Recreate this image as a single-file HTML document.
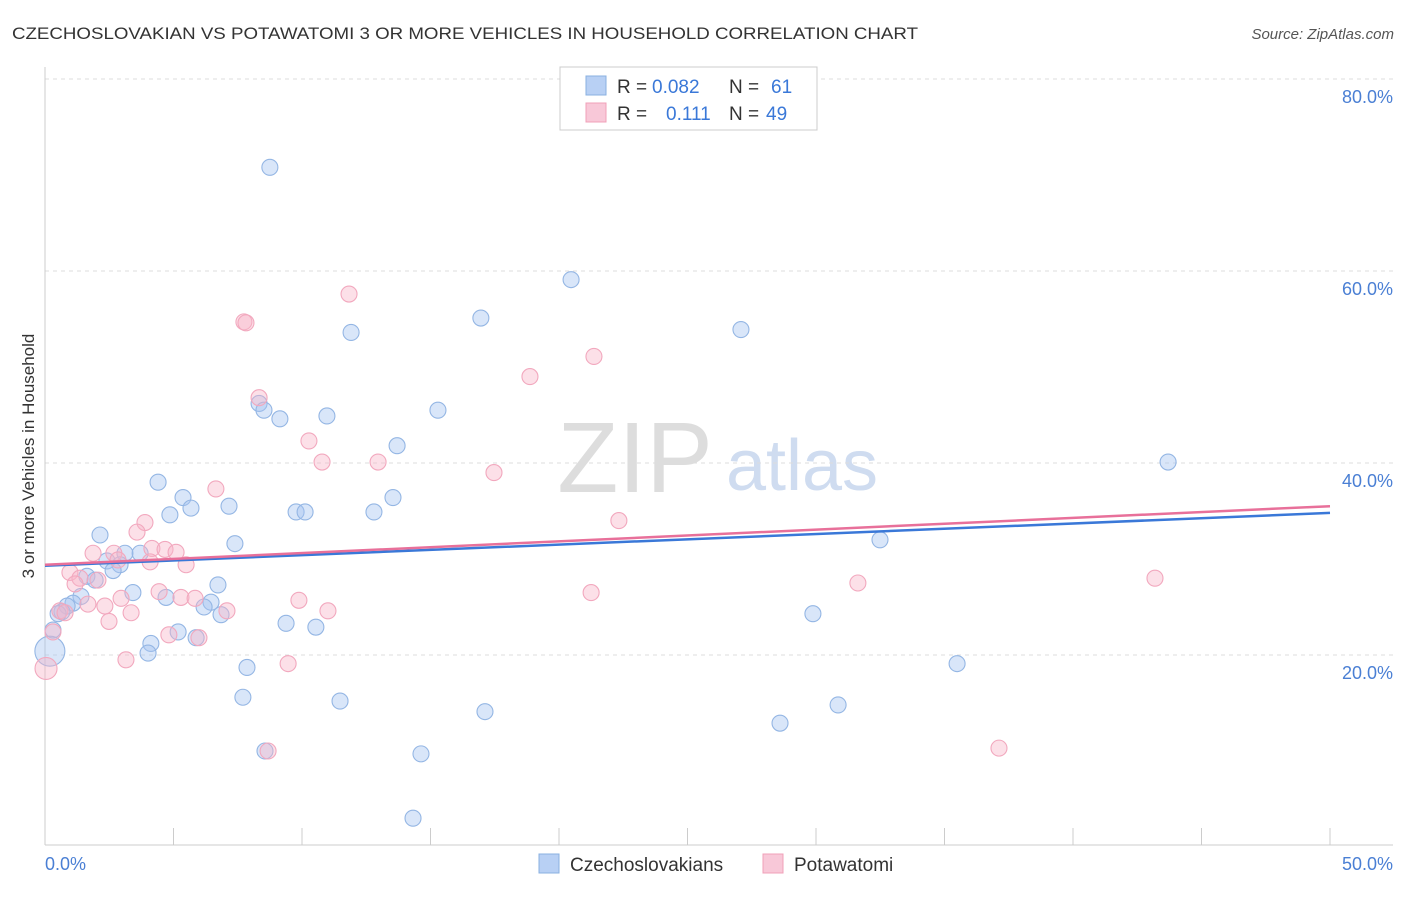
<!DOCTYPE html>
<html><head><meta charset="utf-8"><style>
body{margin:0;background:#fff;font-family:"Liberation Sans",sans-serif}
svg text{font-family:"Liberation Sans",sans-serif}
</style></head><body>
<svg id="chart" width="1406" height="892" xmlns="http://www.w3.org/2000/svg">
<text x="12" y="39" font-size="17" fill="#333" textLength="906" lengthAdjust="spacingAndGlyphs">CZECHOSLOVAKIAN VS POTAWATOMI 3 OR MORE VEHICLES IN HOUSEHOLD CORRELATION CHART</text>
<text x="1394" y="39" font-size="15" fill="#555" font-style="italic" text-anchor="end">Source: ZipAtlas.com</text>
<text transform="translate(34,456) rotate(-90)" font-size="17" fill="#333" text-anchor="middle">3 or more Vehicles in Household</text>
<g>
<text x="635" y="492" font-size="100" fill="#ddd" font-family="Liberation Serif" text-anchor="middle">ZIP</text>
<text x="802" y="490" font-size="72" fill="#cfdcf0" text-anchor="middle">atlas</text>
</g>
<g id="grid"></g><g id="axes"></g><g id="pts"></g><g id="lines"></g>
<g>
<rect x="560" y="67" width="257" height="63" fill="#fff" stroke="#ccc"/>
<rect x="586" y="76" width="20" height="19" fill="#b8d0f4" stroke="#8ab0e0"/>
<text x="617" y="93" font-size="19" fill="#333">R = </text><text x="652" y="93" font-size="19" fill="#3a78d8">0.082</text>
<text x="729" y="93" font-size="19" fill="#333">N = </text><text x="771" y="93" font-size="19" fill="#3a78d8">61</text>
<rect x="586" y="103" width="20" height="19" fill="#f8c8d8" stroke="#f0a0b8"/>
<text x="617" y="120" font-size="19" fill="#333">R = </text><text x="666" y="120" font-size="19" fill="#3a78d8">0.111</text>
<text x="729" y="120" font-size="19" fill="#333">N = </text><text x="766" y="120" font-size="19" fill="#3a78d8">49</text>
</g>
<g>
<rect x="539" y="854" width="20" height="19" fill="#b8d0f4" stroke="#8ab0e0"/>
<text x="570" y="871" font-size="19" fill="#333">Czechoslovakians</text>
<rect x="763" y="854" width="20" height="19" fill="#f8c8d8" stroke="#f0a0b8"/>
<text x="794" y="871" font-size="19" fill="#333">Potawatomi</text>
</g>
</svg>
<script>
const yTicks=[20,40,60,80];
const xTickLabels=["0.0%","50.0%"];
const blueX=[8.75,20.47,16.96,27.08,11.91,8.33,8.52,9.14,10.97,15.29,13.70,43.70,4.40,5.37,5.68,4.86,7.16,9.77,10.12,12.80,13.54,2.14,7.39,3.70,3.11,2.41,2.92,2.65,1.63,1.95,32.49,3.42,4.71,1.40,6.73,6.46,6.19,1.09,0.86,0.66,6.85,9.38,10.54,5.18,5.88,4.12,4.01,0.31,0.19,7.86,35.49,29.88,7.70,11.48,30.86,17.12,28.60,8.56,14.63,14.32,0.51];
const blueY=[70.8,59.1,55.1,53.9,53.6,46.2,45.5,44.6,44.9,45.5,41.8,40.1,38.0,36.4,35.3,34.6,35.5,34.9,34.9,34.9,36.4,32.5,31.6,30.6,30.6,29.8,29.4,28.8,28.2,27.8,32.0,26.5,26.0,26.1,27.3,25.5,25.0,25.4,25.1,24.5,24.2,23.3,22.9,22.4,21.8,21.2,20.2,22.6,20.4,18.7,19.1,24.3,15.6,15.2,14.8,14.1,12.9,10.0,9.7,3.0,24.3];
const pinkX=[11.83,7.74,7.82,21.36,18.87,8.33,10.27,10.78,12.96,17.47,6.65,3.89,3.58,22.33,1.87,2.68,4.16,4.67,5.10,2.84,5.49,4.09,0.97,1.36,2.06,1.17,43.19,31.63,21.25,4.44,5.29,5.84,2.96,9.88,1.67,2.33,7.08,3.35,11.01,0.58,0.78,2.49,4.82,5.99,0.31,3.15,9.46,0.04,37.12,8.68];
const pinkY=[57.6,54.7,54.6,51.1,49.0,46.8,42.3,40.1,40.1,39.0,37.3,33.8,32.8,34.0,30.6,30.6,31.1,31.0,30.7,29.9,29.4,29.7,28.6,28.0,27.8,27.4,28.0,27.5,26.5,26.6,26.0,25.9,25.9,25.7,25.3,25.1,24.6,24.4,24.6,24.6,24.4,23.5,22.1,21.8,22.4,19.5,19.1,18.6,10.3,10.0];
const blueTrend=[29.3,34.8];
const pinkTrend=[29.4,35.5];
const sx=v=>45+v/50*1285;
const sy=v=>847-v/20*192;
const NS="http://www.w3.org/2000/svg";
function mk(t,a,p){const e=document.createElementNS(NS,t);for(const k in a)e.setAttribute(k,a[k]);p.appendChild(e);return e;}
const grid=document.getElementById('grid');
yTicks.forEach(t=>{
 const l=mk('line',{x1:45,x2:1393,y1:sy(t),y2:sy(t),stroke:'#ddd','stroke-dasharray':'4,4'},grid);
 
 
 const tx=mk('text',{x:1393,y:sy(t)+24,'font-size':18,fill:'#4a7fd4','text-anchor':'end'},grid);
 tx.textContent=t.toFixed(1)+'%';
 
 
});
const ax=document.getElementById('axes');
mk('line',{x1:45,x2:45,y1:67,y2:845,stroke:'#ccc'},ax);
mk('line',{x1:45,x2:1393,y1:845,y2:845,stroke:'#ccc'},ax);
for(let i=0;i<=10;i++){mk('line',{x1:sx(i*5),x2:sx(i*5),y1:828,y2:845,stroke:'#ccc'},ax);}
const xl0=mk('text',{x:45,y:870,'font-size':18,fill:'#4a7fd4'},ax);xl0.textContent=xTickLabels[0];


const xl1=mk('text',{x:1393,y:870,'font-size':18,fill:'#4a7fd4','text-anchor':'end'},ax);xl1.textContent=xTickLabels[1];


const pts=document.getElementById('pts');
function series(X,Y,fill,stroke,name,bigIdx,bigR){
 X.forEach((x,i)=>{
  const c=mk('circle',{cx:sx(x),cy:sy(Y[i]),r:i===bigIdx?bigR:8,fill:fill,stroke:stroke,'stroke-width':1.1},pts);
  
  
 });
}
series(blueX,blueY,'rgba(164,196,240,0.42)','#94b6e4','point-czechoslovakian',48,15);
series(pinkX,pinkY,'rgba(248,180,200,0.42)','#f2a8be','point-potawatomi',47,11);
const lines=document.getElementById('lines');
const bl=mk('line',{x1:sx(0),y1:sy(blueTrend[0]),x2:sx(50),y2:sy(blueTrend[1]),stroke:'#3a78d8','stroke-width':2.5},lines);


const pl=mk('line',{x1:sx(0),y1:sy(pinkTrend[0]),x2:sx(50),y2:sy(pinkTrend[1]),stroke:'#e8709a','stroke-width':2.5},lines);


</script>
</body></html>
